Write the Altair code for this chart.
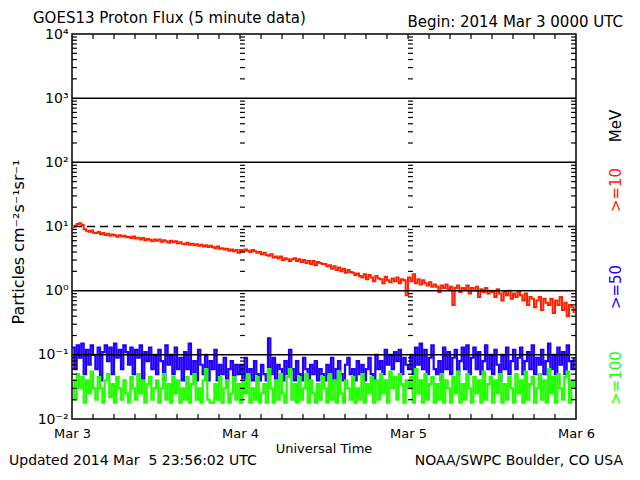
import altair as alt
import pandas as pd

# ---------------- data (20-minute samples) ----------------
STEP_MIN = 20

red_10mev = [
    9.7, 10.3, 10.9, 11.2, 10.6, 9.1, 8.6, 8.3, 8.7, 8.0, 7.9, 8.2,
    7.6, 7.9, 7.4, 7.7, 7.2, 7.5, 7.3, 6.9, 7.3, 7.0, 7.2, 6.8,
    6.9, 6.6, 7.0, 6.5, 6.7, 6.3, 6.6, 6.1, 6.4, 6.2, 5.9, 6.3,
    6.0, 6.3, 5.8, 6.1, 5.9, 5.6, 6.0, 5.7, 5.9, 5.5, 5.7, 5.4,
    5.3, 5.6, 5.2, 5.4, 5.1, 5.3, 5.0, 5.2, 4.9, 5.1, 4.8, 5.0,
    4.8, 4.6, 4.9, 4.5, 4.6, 4.4, 4.5, 4.2, 4.4, 4.1, 4.3, 3.9,
    4.3, 4.1, 4.4, 4.2, 4.0, 4.3, 4.1, 3.9, 4.0, 3.7, 3.9, 3.6,
    3.5, 3.7, 3.3, 3.4, 3.2, 3.4, 3.0, 3.2, 3.1, 2.9, 3.1, 3.2,
    2.9, 3.1, 2.8, 3.0, 2.7, 2.9, 2.6, 2.9, 2.5, 2.8, 2.7, 2.6,
    2.6, 2.4, 2.5, 2.2, 2.4, 2.1, 2.3, 2.0, 2.2, 1.9, 2.1, 1.95,
    1.9, 1.75, 1.85, 1.7, 1.6, 1.8, 1.5, 1.75, 1.6, 1.4, 1.7, 1.55,
    1.5, 1.3, 1.65, 1.45, 1.35, 1.55, 1.4, 1.6, 1.3, 1.5, 1.45, 0.85,
    1.6, 1.4, 1.8, 1.3, 1.5, 1.25, 1.45, 1.3, 1.2, 1.35, 1.15, 1.25,
    1.15, 0.95, 1.2, 1.1, 1.25, 1.05, 1.15, 0.6, 1.1, 1.2, 0.95, 1.1,
    1.05, 1.2, 0.9, 1.1, 1.0, 1.15, 0.8, 1.05, 0.95, 1.1, 0.9, 1.0,
    0.95, 0.8, 1.05, 0.9, 0.7, 0.95, 0.85, 1.0, 0.75, 0.9, 0.8, 0.95,
    0.85, 0.7, 0.9, 0.6, 0.8, 0.75, 0.55, 0.7, 0.8, 0.5, 0.75, 0.65,
    0.6, 0.75, 0.45, 0.7, 0.6, 0.8, 0.5, 0.65, 0.4, 0.6, 0.55, 0.45,
]

blue_50mev = [
    0.13, 0.06, 0.14, 0.09, 0.15, 0.05, 0.12, 0.07, 0.14, 0.10, 0.06, 0.13,
    0.04, 0.11, 0.14, 0.08, 0.13, 0.05, 0.15, 0.09, 0.12, 0.06, 0.14, 0.11,
    0.07, 0.13, 0.05, 0.12, 0.09, 0.14, 0.04, 0.11, 0.08, 0.13, 0.06, 0.10,
    0.05, 0.12, 0.08, 0.04, 0.14, 0.07, 0.10, 0.05, 0.13, 0.06, 0.09, 0.04,
    0.11, 0.06, 0.15, 0.05, 0.08, 0.04, 0.12, 0.07, 0.05, 0.10, 0.04, 0.08,
    0.06, 0.12, 0.04, 0.07, 0.05, 0.09, 0.04, 0.06, 0.08, 0.04, 0.07, 0.05,
    0.07, 0.04, 0.09, 0.05, 0.06, 0.04, 0.08, 0.05, 0.04, 0.07, 0.05, 0.04,
    0.18, 0.05, 0.09, 0.04, 0.07, 0.06, 0.04, 0.08, 0.05, 0.12, 0.06, 0.04,
    0.08, 0.05, 0.04, 0.09, 0.06, 0.04, 0.07, 0.05, 0.08, 0.04, 0.06, 0.05,
    0.04, 0.07, 0.05, 0.09, 0.04, 0.06, 0.08, 0.05, 0.04, 0.07, 0.09, 0.05,
    0.06, 0.04, 0.08, 0.05, 0.07, 0.04, 0.06, 0.09, 0.05, 0.04, 0.10, 0.06,
    0.08, 0.05, 0.12, 0.07, 0.10, 0.06, 0.11, 0.08, 0.12, 0.05, 0.09, 0.07,
    0.06, 0.10, 0.05, 0.13, 0.07, 0.15, 0.06, 0.12, 0.05, 0.09, 0.14, 0.06,
    0.05, 0.08, 0.04, 0.13, 0.06, 0.11, 0.05, 0.09, 0.12, 0.05, 0.08, 0.13,
    0.06, 0.14, 0.05, 0.09, 0.13, 0.06, 0.11, 0.05, 0.08, 0.14, 0.06, 0.10,
    0.05, 0.12, 0.07, 0.04, 0.10, 0.06, 0.13, 0.05, 0.08, 0.12, 0.06, 0.09,
    0.13, 0.05, 0.08, 0.11, 0.06, 0.14, 0.05, 0.09, 0.07, 0.12, 0.05, 0.08,
    0.15, 0.06, 0.10, 0.05, 0.13, 0.07, 0.11, 0.05, 0.14, 0.08, 0.06, 0.09,
]

green_100mev = [
    0.04, 0.02, 0.05, 0.03, 0.045, 0.018, 0.04, 0.025, 0.055, 0.03, 0.02, 0.045,
    0.03, 0.018, 0.04, 0.05, 0.022, 0.035, 0.018, 0.045, 0.03, 0.02, 0.04, 0.025,
    0.018, 0.045, 0.03, 0.02, 0.05, 0.025, 0.04, 0.018, 0.035, 0.045, 0.02, 0.03,
    0.04, 0.018, 0.03, 0.05, 0.02, 0.035, 0.018, 0.045, 0.025, 0.04, 0.018, 0.03,
    0.02, 0.045, 0.018, 0.035, 0.05, 0.02, 0.03, 0.018, 0.04, 0.06, 0.02, 0.018,
    0.018, 0.035, 0.02, 0.045, 0.018, 0.03, 0.04, 0.018, 0.025, 0.045, 0.02, 0.035,
    0.018, 0.04, 0.025, 0.05, 0.018, 0.03, 0.02, 0.045, 0.018, 0.025, 0.035, 0.018,
    0.06, 0.03, 0.018, 0.04, 0.02, 0.05, 0.025, 0.018, 0.045, 0.06, 0.02, 0.035,
    0.018, 0.045, 0.02, 0.03, 0.05, 0.018, 0.04, 0.025, 0.018, 0.035, 0.02, 0.045,
    0.03, 0.018, 0.05, 0.02, 0.04, 0.018, 0.055, 0.025, 0.018, 0.04, 0.03, 0.02,
    0.045, 0.018, 0.03, 0.02, 0.05, 0.018, 0.035, 0.025, 0.045, 0.018, 0.04, 0.02,
    0.05, 0.025, 0.04, 0.018, 0.055, 0.03, 0.045, 0.02, 0.05, 0.035, 0.018, 0.04,
    0.03, 0.045, 0.018, 0.06, 0.025, 0.04, 0.018, 0.05, 0.02, 0.035, 0.045, 0.018,
    0.035, 0.02, 0.05, 0.018, 0.04, 0.03, 0.018, 0.045, 0.025, 0.055, 0.018, 0.035,
    0.02, 0.05, 0.03, 0.018, 0.045, 0.025, 0.04, 0.018, 0.055, 0.02, 0.035, 0.045,
    0.018, 0.04, 0.025, 0.05, 0.018, 0.035, 0.02, 0.045, 0.03, 0.018, 0.05, 0.025,
    0.04, 0.018, 0.055, 0.02, 0.035, 0.045, 0.018, 0.03, 0.05, 0.02, 0.04, 0.018,
    0.06, 0.025, 0.045, 0.018, 0.05, 0.03, 0.02, 0.045, 0.055, 0.018, 0.04, 0.03,
]

series_names = [">=10 MeV", ">=50 MeV", ">=100 MeV"]
series_colors = ["#ff2200", "#2200ff", "#22ff00"]

decades = [-2, -1, 0, 1, 2, 3, 4]
decade_labels = ["10⁻²", "10⁻¹", "10⁰", "10¹", "10²", "10³", "10⁴"]
solid_grid = [1e3, 1e2, 1e0, 1e-1]
dashed_grid = [1e1]
day_hours = [0, 24, 48, 72]
day_labels = ["Mar 3", "Mar 4", "Mar 5", "Mar 6"]
minor_tick_hours = list(range(3, 72, 3))
minor_mults = [2, 3, 4, 5, 6, 7, 8, 9]

FONT = "DejaVu Sans"
W, H = 504, 385

# ---------------- tables ----------------
rows = []
for name, vals in zip(series_names, [red_10mev, blue_50mev, green_100mev]):
    for i, v in enumerate(vals):
        rows.append({"h": i * STEP_MIN / 60.0, "v": v, "s": name})
df = pd.DataFrame(rows)

TICK_H = 0.7  # tick length in hours (~5 px)
TICK_F = 1.2  # tick length as a log factor (~5 px)
yt_rows = []
for start in [0, 24, 48]:
    for d in decades[:-1]:
        for m in minor_mults:
            yt_rows.append({"x0": start, "x1": start + TICK_H, "y": m * 10.0 ** d})
for d in decades[:-1]:
    for m in minor_mults:
        yt_rows.append({"x0": 72 - TICK_H, "x1": 72, "y": m * 10.0 ** d})
ytick_df = pd.DataFrame(yt_rows)

xt_rows = []
for hh in minor_tick_hours:
    xt_rows.append({"h": hh, "y0": 10.0 ** decades[0], "y1": 10.0 ** decades[0] * TICK_F})
    xt_rows.append({"h": hh, "y0": 10.0 ** decades[-1], "y1": 10.0 ** decades[-1] / TICK_F})
xtick_df = pd.DataFrame(xt_rows)

xscale = alt.Scale(domain=[0, 72], nice=False, zero=False)
yscale = alt.Scale(type="log", domain=[10.0 ** decades[0], 10.0 ** decades[-1]], nice=False)

label_arr = "[" + ",".join("'" + s + "'" for s in decade_labels) + "]"
day_arr = "[" + ",".join("'" + s + "'" for s in day_labels) + "]"

x_axis = alt.Axis(
    values=day_hours, labelExpr=day_arr + "[round(datum.value/24)]", title=None,
    grid=False, ticks=False, domain=False, labelFlush=False, labelOverlap=False,
    labelFont=FONT, labelFontSize=13, labelColor="black", labelPadding=8,
)
y_axis = alt.Axis(
    values=[10.0 ** d for d in decades],
    labelExpr=label_arr + "[round(log(datum.value)/LN10)+2]", title=None,
    grid=False, ticks=False, domain=False, labelOverlap=False,
    labelFont=FONT, labelFontSize=14, labelColor="black", labelPadding=4,
)

layers = []
# data lines
for name, col, sw in zip(series_names, series_colors, [2.0, 2.2, 2.2]):
    layers.append(
        alt.Chart(df).transform_filter(alt.datum.s == name)
        .mark_line(color=col, strokeWidth=sw, interpolate="step-after", clip=True)
        .encode(
            x=alt.X("h:Q", scale=xscale, axis=x_axis),
            y=alt.Y("v:Q", scale=yscale, axis=y_axis),
        )
    )

# grid lines
layers.append(
    alt.Chart(pd.DataFrame({"y": solid_grid})).mark_rule(color="black", strokeWidth=1.5)
    .encode(y=alt.Y("y:Q", scale=yscale))
)
layers.append(
    alt.Chart(pd.DataFrame({"y": dashed_grid})).mark_rule(color="black", strokeWidth=1.5, strokeDash=[8, 5])
    .encode(y=alt.Y("y:Q", scale=yscale))
)
# minor y ticks (left, day lines, right)
layers.append(
    alt.Chart(ytick_df).mark_rule(color="black", strokeWidth=1.2)
    .encode(x=alt.X("x0:Q", scale=xscale), x2="x1:Q", y=alt.Y("y:Q", scale=yscale))
)
# x ticks (bottom and top)
layers.append(
    alt.Chart(xtick_df).mark_rule(color="black", strokeWidth=1.2)
    .encode(x=alt.X("h:Q", scale=xscale), y=alt.Y("y0:Q", scale=yscale), y2="y1:Q")
)

one = pd.DataFrame({"k": [0]})


def txt(text, x, y, size=15, align="left", color="black", angle=0):
    kw = dict(font=FONT, fontSize=size, align=align, baseline="middle", color=color)
    if angle:
        kw["angle"] = angle
    return alt.Chart(one).mark_text(**kw).encode(
        x=alt.value(x), y=alt.value(y), text=alt.value(text)
    )


layers += [
    txt("GOES13 Proton Flux (5 minute data)", -39, -16, size=15),
    txt("Begin: 2014 Mar 3 0000 UTC", 551, -12, size=15, align="right"),
    txt("Updated 2014 Mar \u00a05 23:56:02 UTC", -63, 427, size=14),
    txt("NOAA/SWPC Boulder, CO USA", 551, 427, size=14, align="right"),
    txt("Universal Time", 252, 415, size=13, align="center"),
    txt("Particles cm⁻²s⁻¹sr⁻¹", -53, 208, size=16, align="center", angle=270),
    txt("MeV", 544, 92, size=15, align="center", angle=270),
    txt(">=10", 544, 156, size=15, align="center", color=series_colors[0], angle=270),
    txt(">=50", 544, 253, size=15, align="center", color=series_colors[1], angle=270),
    txt(">=100", 544, 344, size=15, align="center", color=series_colors[2], angle=270),
]

chart = (
    alt.layer(*layers)
    .properties(
        width=W, height=H, autosize="none",
        padding={"left": 64, "top": 26, "right": 56, "bottom": 53},
        background="white",
    )
    .configure_view(stroke="black", strokeWidth=1.5)
)

chart.save("out.html", embed_options={"renderer": "svg", "actions": False})
